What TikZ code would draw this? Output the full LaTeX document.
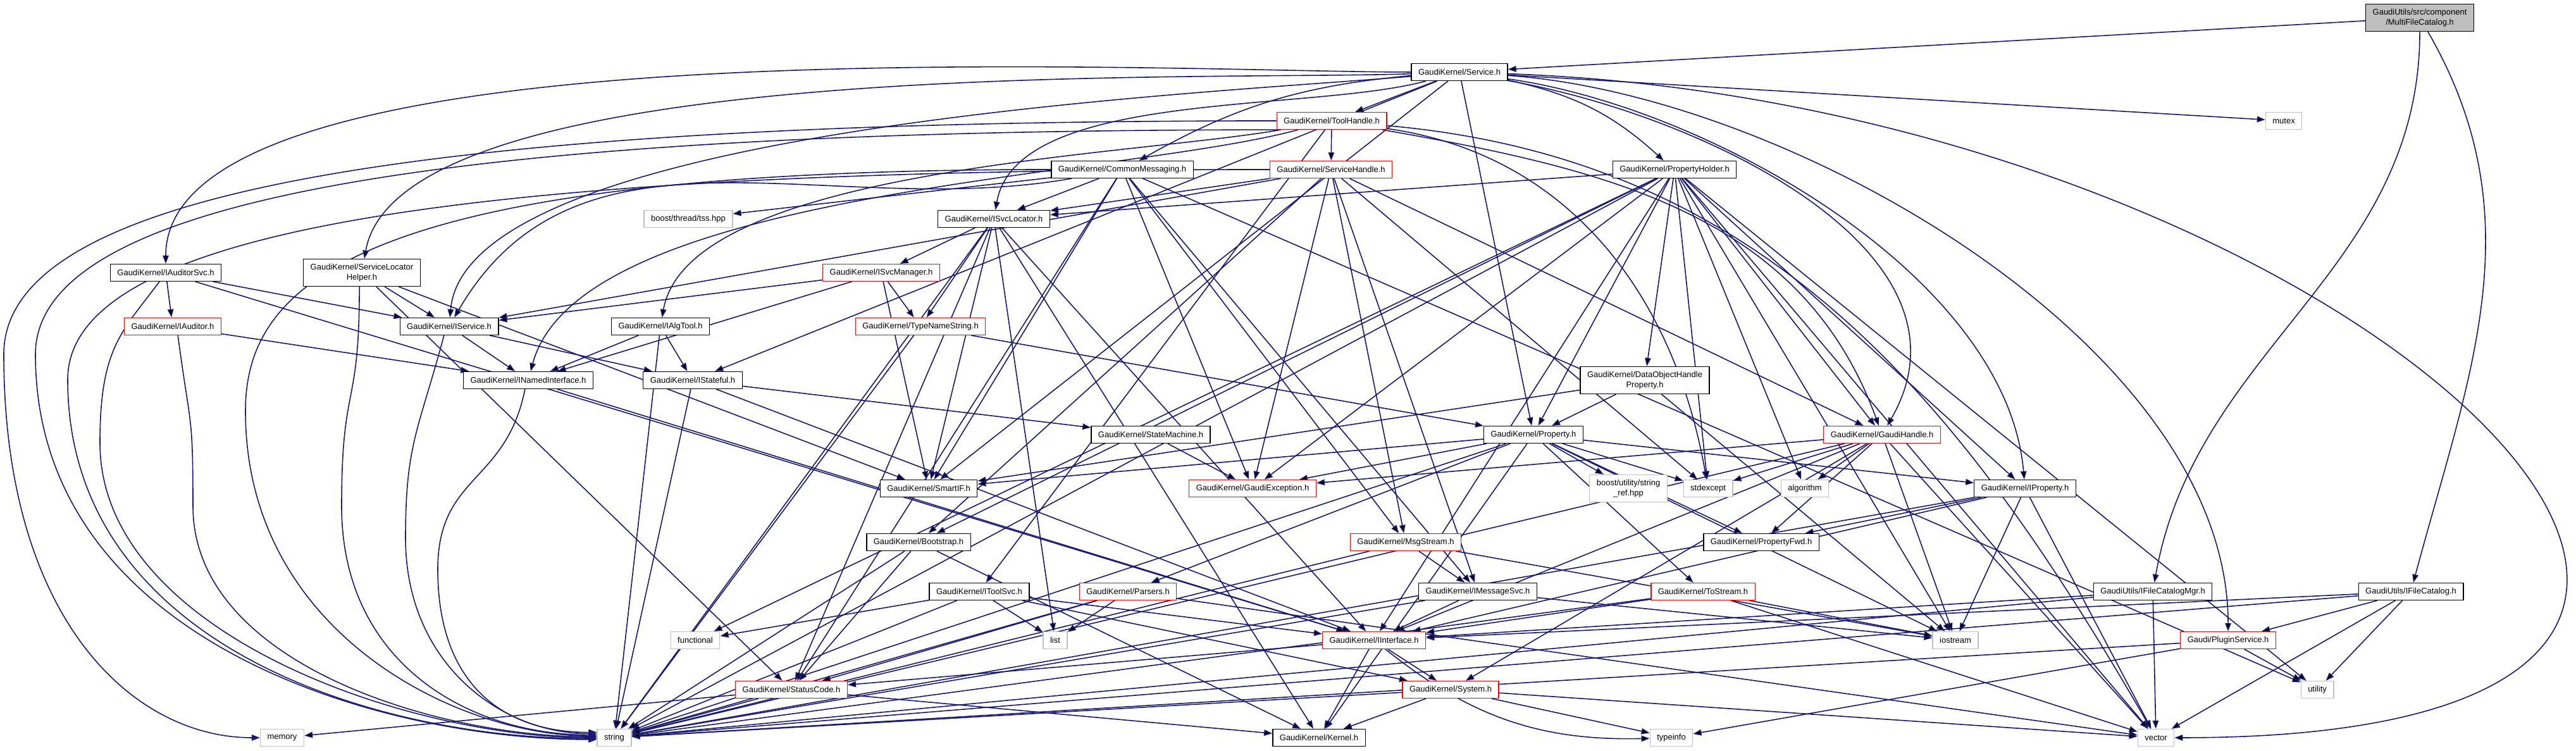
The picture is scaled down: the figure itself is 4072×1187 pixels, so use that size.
\documentclass[tikz,border=0pt]{standalone}
\usepackage{fontspec}
\setmainfont{Liberation Sans}
\usetikzlibrary{arrows.meta,backgrounds}
\definecolor{edgeblue}{RGB}{25,25,112}
\definecolor{sysgray}{RGB}{191,191,191}
\begin{document}
\begin{tikzpicture}[x=0.1pt,y=0.1pt,
  hdr/.style={draw=black,line width=0.13pt,fill=white,minimum height=2.7pt,inner xsep=1.1pt,inner ysep=0.2pt,font=\fontsize{1.3pt}{1.6pt}\selectfont},
  trunc/.style={hdr,draw=red},
  sys/.style={hdr,draw=sysgray},
  twoline/.style={align=center,minimum height=4.3pt},
  root/.style={hdr,fill=sysgray,twoline},
  incl/.style={draw=edgeblue,line width=0.16pt,-{Triangle[length=1.3pt,width=0.95pt]}}]
  \useasboundingbox (0,0) rectangle (4072,-1187);

  % headers, row by row
  \node[root] (mfc) at (3825,-28) {GaudiUtils/src/component\\/MultiFileCatalog.h};
  \node[hdr] (svc) at (2307,-114) {GaudiKernel/Service.h};
  \node[sys] (mutex) at (3610,-191) {mutex};
  \node[trunc] (th) at (2105,-191) {GaudiKernel/ToolHandle.h};
  \node[hdr] (cm) at (1774,-268) {GaudiKernel/CommonMessaging.h};
  \node[trunc] (sh) at (2104,-268) {GaudiKernel/ServiceHandle.h};
  \node[hdr] (ph) at (2647,-268) {GaudiKernel/PropertyHolder.h};
  \node[sys] (tss) at (1088,-346) {boost/thread/tss.hpp};
  \node[hdr] (isl) at (1571,-346) {GaudiKernel/ISvcLocator.h};
  \node[hdr] (ias) at (262,-431) {GaudiKernel/IAuditorSvc.h};
  \node[hdr,twoline] (slh) at (572,-431) {GaudiKernel/ServiceLocator\\Helper.h};
  \node[trunc] (ism) at (1393,-431) {GaudiKernel/ISvcManager.h};
  \node[trunc] (iaud) at (273,-516) {GaudiKernel/IAuditor.h};
  \node[hdr] (isvc) at (710,-516) {GaudiKernel/IService.h};
  \node[hdr] (ialg) at (1044,-516) {GaudiKernel/IAlgTool.h};
  \node[trunc] (tns) at (1455,-516) {GaudiKernel/TypeNameString.h};
  \node[hdr,twoline] (dohp) at (2600,-601) {GaudiKernel/DataObjectHandle\\Property.h};
  \node[hdr] (nif) at (835,-601) {GaudiKernel/INamedInterface.h};
  \node[hdr] (istf) at (1095,-601) {GaudiKernel/IStateful.h};
  \node[hdr] (sm) at (1819,-687) {GaudiKernel/StateMachine.h};
  \node[hdr] (prop) at (2424,-687) {GaudiKernel/Property.h};
  \node[trunc] (ghandle) at (2975,-687) {GaudiKernel/GaudiHandle.h};
  \node[hdr] (smartif) at (1468,-772) {GaudiKernel/SmartIF.h};
  \node[trunc] (gexc) at (1980,-772) {GaudiKernel/GaudiException.h};
  \node[sys,twoline] (sref) at (2574,-772) {boost/utility/string\\\_ref.hpp};
  \node[sys] (stdexc) at (2700,-772) {stdexcept};
  \node[sys] (algo) at (2853,-772) {algorithm};
  \node[hdr] (iprop) at (3201,-772) {GaudiKernel/IProperty.h};
  \node[hdr] (boot) at (1452,-857) {GaudiKernel/Bootstrap.h};
  \node[trunc] (msgs) at (2222,-857) {GaudiKernel/MsgStream.h};
  \node[hdr] (pfwd) at (2784,-857) {GaudiKernel/PropertyFwd.h};
  \node[hdr] (itsvc) at (1548,-935) {GaudiKernel/IToolSvc.h};
  \node[trunc] (parsers) at (1783,-935) {GaudiKernel/Parsers.h};
  \node[hdr] (imsg) at (2336,-935) {GaudiKernel/IMessageSvc.h};
  \node[trunc] (tostr) at (2692,-935) {GaudiKernel/ToStream.h};
  \node[hdr] (ifcmgr) at (3403,-935) {GaudiUtils/IFileCatalogMgr.h};
  \node[hdr] (ifc) at (3811,-935) {GaudiUtils/IFileCatalog.h};
  \node[sys] (functional) at (1099,-1012) {functional};
  \node[sys] (list) at (1668,-1012) {list};
  \node[trunc] (iface) at (2172,-1012) {GaudiKernel/IInterface.h};
  \node[sys] (iostream) at (3091,-1012) {iostream};
  \node[trunc] (plugin) at (3522,-1012) {Gaudi/PluginService.h};
  \node[trunc] (sc) at (1251,-1090) {GaudiKernel/StatusCode.h};
  \node[trunc] (system) at (2293,-1090) {GaudiKernel/System.h};
  \node[sys] (utility) at (3663,-1090) {utility};
  \node[sys] (memory) at (446,-1166) {memory};
  \node[sys] (string) at (971,-1166) {string};
  \node[hdr] (kernel) at (2085,-1166) {GaudiKernel/Kernel.h};
  \node[sys] (typeinfo) at (2642,-1166) {typeinfo};
  \node[sys] (vector) at (3408,-1166) {vector};

  % include edges
  \begin{scope}[on background layer]
  \path[incl] (mfc) edge (svc) edge[out=-90,in=80] (ifcmgr) edge[out=-60,in=75] (ifc);
  \path[incl] (svc) edge (mutex) edge (th) edge[bend right=12] (cm) edge[bend left=15] (ph)
    edge[out=195,in=80,looseness=0.7] (isl) edge[out=180,in=90,looseness=0.5] (ias)
    edge[out=182,in=80,looseness=0.5] (slh) edge[out=185,in=85,looseness=0.5] (isvc)
    edge (istf) edge (prop) edge (smartif) edge[out=-8,in=95,looseness=0.8] (iprop)
    edge[out=-4,in=90,looseness=0.8] (plugin) edge[out=-2,in=0,looseness=2.3] (vector)
    edge[out=-10,in=60] (ghandle);
  \path[incl] (th) edge (sh) edge[out=190,in=80,looseness=0.6] (ialg) edge[out=195,in=75,looseness=0.6] (nif)
    edge (itsvc) edge[out=-10,in=110] (ghandle) edge[out=-8,in=100] (stdexc) edge[out=-5,in=120] (vector);
  \path[incl] (sh) edge (ghandle) edge (isl) edge (imsg) edge (msgs) edge (gexc) edge (boot)
    edge (isvc) edge (stdexc);
  \path[incl] (cm) edge (isl) edge (tss) edge (gexc) edge (imsg) edge (msgs) edge (smartif)
    edge (sc) edge[out=190,in=60] (isvc) edge (utility);
  \path[incl] (ph) edge (dohp) edge (prop) edge (iprop) edge (ghandle) edge (isl) edge (boot)
    edge (gexc) edge (iface) edge (algo) edge (stdexc) edge (iostream) edge (utility)
    edge (vector) edge (string) edge (functional);
  \path[incl] (isl) edge (ism) edge (tns) edge (smartif) edge (list) edge (iface) edge (sc)
    edge (string) edge (kernel);
  \path[incl] (ias) edge (iaud) edge (isvc) edge (iface);
  \path[incl] (iaud) edge (nif);
  \path[incl] (slh) edge (isvc) edge (smartif) edge (sc);
  \path[incl] (isvc) edge (nif) edge (istf);
  \path[incl] (ialg) edge (nif) edge (istf) edge (string);
  \path[incl] (nif) edge (iface);
  \path[incl] (istf) edge (iface) edge (sm) edge (string);
  \path[incl] (ism) edge (tns) edge (smartif) edge (isvc) edge (nif);
  \path[incl] (tns) edge (prop) edge (string);
  \path[incl] (sm) edge (gexc);
  \path[incl] (dohp) edge (prop) edge (smartif) edge (iostream);
  \path[incl] (prop) edge (gexc) edge (parsers) edge (tostr) edge (pfwd) edge (iprop) edge (smartif)
    edge (sref) edge (stdexc) edge (string) edge (iostream) edge (kernel);
  \path[incl] (ghandle) edge (gexc) edge (pfwd) edge (stdexc) edge (algo) edge (iface) edge (system)
    edge (iostream) edge (vector) edge (string);
  \path[incl] (iprop) edge (pfwd) edge (iface) edge (iostream) edge (string) edge (vector);
  \path[incl] (boot) edge (kernel) edge (sc) edge (string);
  \path[incl] (msgs) edge (imsg) edge (iostream) edge (string);
  \path[incl] (itsvc) edge (functional) edge (list) edge (iface) edge (string) edge (system);
  \path[incl] (parsers) edge (list) edge (sc) edge (string) edge (vector);
  \path[incl] (imsg) edge (iface) edge (iostream) edge (string);
  \path[incl] (tostr) edge (iface) edge (iostream) edge (vector) edge (string);
  \path[incl] (iface) edge (sc) edge (system) edge (kernel) edge[bend right=20] (typeinfo);
  \path[incl] (sc) edge (kernel) edge (memory) edge (string);
  \path[incl] (system) edge (kernel) edge (typeinfo) edge (string) edge (vector);
  \path[incl] (plugin) edge (utility) edge (string) edge (typeinfo);
  \path[incl] (ifc) edge (plugin) edge (utility) edge (vector) edge (iface) edge (string);
  \path[incl] (ifcmgr) edge (iface) edge (vector) edge (string);

  % the ones that run down the left side
  \draw[incl] (th.west) .. controls +(-1400,0) and +(0,250) .. (6,-560) .. controls +(0,-420) and +(-200,0) .. (memory.west);
  \draw[incl] (th.190) .. controls +(-1300,0) and +(0,250) .. (56,-560) .. controls +(0,-450) and +(-350,0) .. (string.186);
  \draw[incl] (sh.west) .. controls +(-1200,0) and +(0,250) .. (107,-600) .. controls +(0,-420) and +(-350,0) .. (string.183);
  \draw[incl] (ias.235) .. controls +(-60,-80) and +(0,150) .. (158,-700) .. controls +(0,-300) and +(-300,0) .. (string.180);
  \draw[incl] (iaud.-60) .. controls +(20,-150) and +(0,150) .. (305,-800) .. controls +(0,-250) and +(-250,0) .. (string.177);
  \draw[incl] (cm.west) .. controls +(-1100,0) and +(0,200) .. (388,-650) .. controls +(0,-350) and +(-220,0) .. (string.174);
  \draw[incl] (slh.-100) .. controls +(0,-200) and +(0,200) .. (540,-800) .. controls +(0,-250) and +(-200,0) .. (string.171);
  \draw[incl] (isvc.-120) .. controls +(-40,-150) and +(0,150) .. (641,-850) .. controls +(0,-200) and +(-150,0) .. (string.167);
  \draw[incl] (nif.-110) .. controls +(-30,-150) and +(0,150) .. (692,-900) .. controls +(0,-180) and +(-150,0) .. (string.163);
  \end{scope}
\end{tikzpicture}
\end{document}
